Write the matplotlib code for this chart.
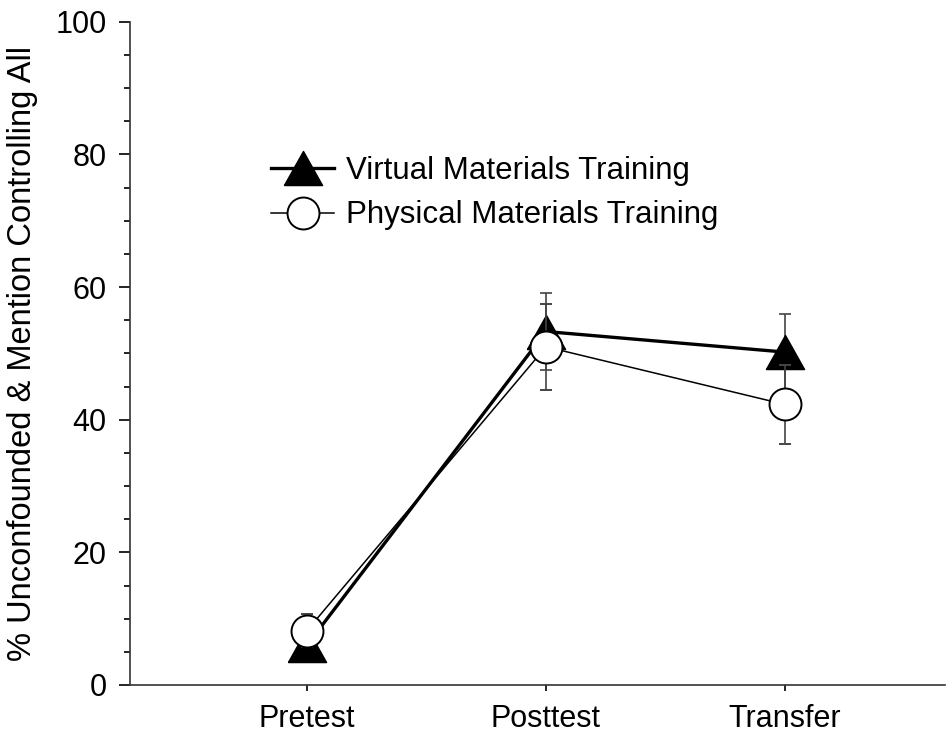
import numpy as np
from matplotlib import pyplot as plt

plt.rcParams['font.family'] = ['Liberation Sans', 'DejaVu Sans']

# data
phases = ['Pretest', 'Posttest', 'Transfer']
virtual_mean = [6.0, 53.3, 50.2]
virtual_err = [2.0, 5.8, 5.7]
physical_mean = [8.2, 51.0, 42.3]
physical_err = [2.5, 6.5, 5.9]

x = np.arange(1, len(phases) + 1)

fig = plt.figure(figsize=(9.49, 7.36), dpi=100)
ax = fig.add_axes([0.137, 0.0693, 0.859, 0.901])

# slightly wide triangle, like the original
tri = [(-0.56, -0.5), (0.56, -0.5), (0.0, 0.5), (-0.56, -0.5)]

ax.errorbar(x, virtual_mean, yerr=virtual_err, color='black', lw=2.4,
            marker=tri, ms=27.5, mfc='black', mec='black',
            ecolor='#444444', elinewidth=1.2, capsize=4.5, capthick=1.2,
            label='Virtual Materials Training', zorder=2)
ax.errorbar(x, physical_mean, yerr=physical_err, color='black', lw=1.1,
            marker='o', ms=23, mfc='white', mec='black', mew=1.4,
            ecolor='#444444', elinewidth=1.2, capsize=4.5, capthick=1.2,
            label='Physical Materials Training', zorder=3)

ax.set_xlim(0.26, 3.67)
ax.set_ylim(0, 100)
ax.set_xticks(x)
ax.set_xticklabels(phases)
ax.set_yticks(np.arange(0, 101, 20))
ax.set_yticks([v for v in range(5, 100, 5) if v % 20], minor=True)
ax.tick_params(axis='y', which='major', labelsize=22, length=8, width=1.2, direction='out', pad=9)
ax.tick_params(axis='y', which='minor', length=4, width=1.2, direction='out')
ax.tick_params(axis='x', which='major', labelsize=22, length=4, width=1.2, direction='out', pad=10)
ax.spines['top'].set_visible(False)
ax.spines['right'].set_visible(False)
for s in ['left', 'bottom']:
    ax.spines[s].set_linewidth(1.2)
    ax.spines[s].set_color('#333333')

ax.set_ylabel('% Unconfounded & Mention Controlling All', fontsize=23.5, labelpad=12)

handles, labels = ax.get_legend_handles_labels()
handles = [h[0] for h in handles]
ax.legend(handles, labels, loc='upper left', bbox_to_anchor=(0.158, 0.816),
          frameon=False, fontsize=22.5, handlelength=2.0, handletextpad=0.4,
          labelspacing=0.45, borderaxespad=0, numpoints=1)

fig.savefig('out.png', dpi=100)
